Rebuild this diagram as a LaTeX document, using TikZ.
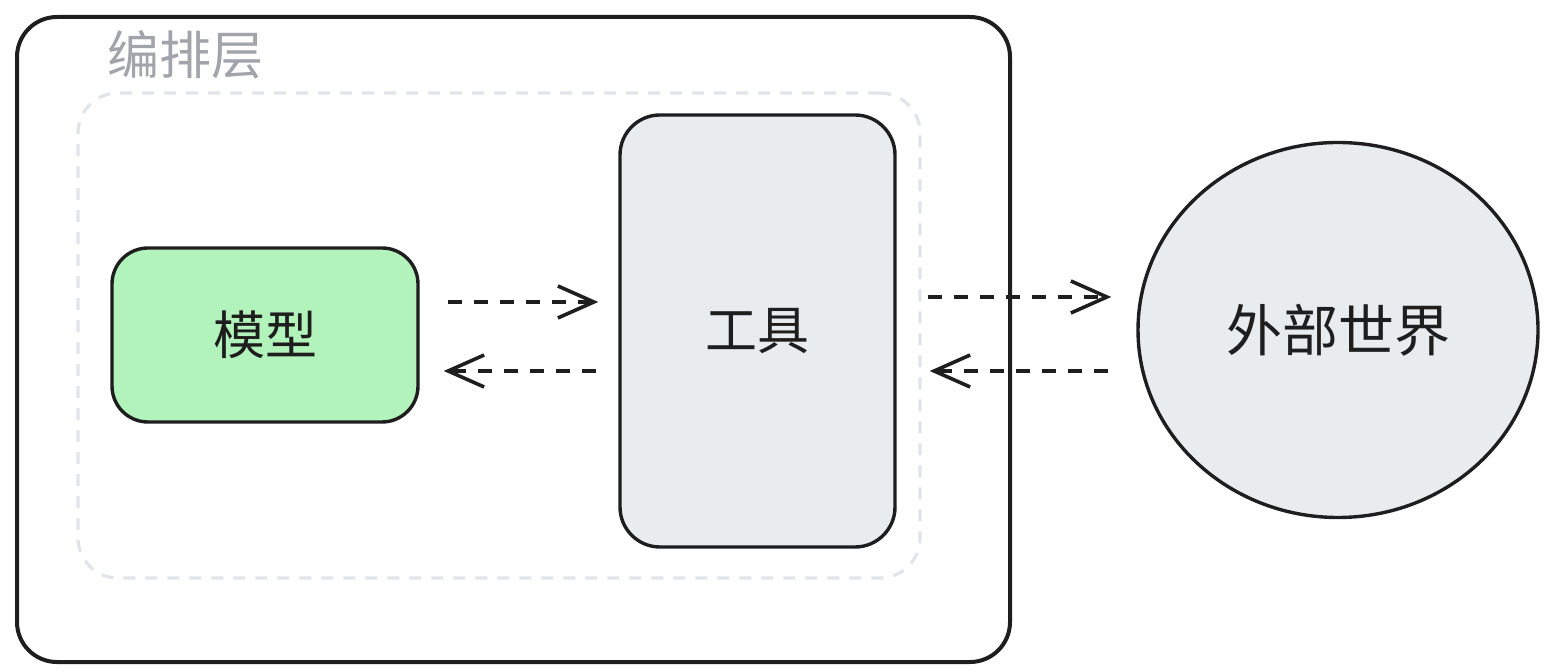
\documentclass[tikz,border=0pt]{standalone}
\usepackage{fontspec}
\setmainfont{Noto Sans CJK SC}
\usetikzlibrary{arrows.meta,calc,shapes.geometric}
\definecolor{ink}{HTML}{1E1E1E}
\definecolor{modelgreen}{HTML}{B2F2BB}
\definecolor{toolgray}{HTML}{E9ECEF}
\definecolor{layergray}{HTML}{E1E4E9}
\definecolor{titlegray}{HTML}{A2A4AB}
\begin{document}
\begin{tikzpicture}[x=0.5pt, y=-0.5pt,
    box/.style={draw=ink, line width=1.7pt, rounded corners=18pt, inner sep=0pt, font=\fontsize{26pt}{30pt}\selectfont, text=ink},
    flow/.style={draw=ink, line width=1.8pt, dash pattern=on 7pt off 6pt, -{Straight Barb[length=18pt, width=16pt, line width=1.8pt]}}]
  \useasboundingbox (0,0) rectangle (1550,672);
  \node (outer) [draw=ink, line width=2pt, rounded corners=20pt, minimum width=496.5pt, minimum height=322.5pt] at (513.5,339.5) {};
  \node (layer) [draw=layergray, line width=1.6pt, dash pattern=on 6pt off 5pt, rounded corners=20pt, minimum width=421pt, minimum height=242.5pt] at (499,335.5) {};
  \node (title) [text=titlegray, font=\fontsize{26pt}{30pt}\selectfont] at (185,55) {编排层};
  \node (model) [box, fill=modelgreen, minimum width=153pt, minimum height=87pt] at (265,335) {模型};
  \node (tool) [box, fill=toolgray, rounded corners=20pt, minimum width=137.5pt, minimum height=216pt] at (757.5,331) {工具};
  \node (world) [box, ellipse, fill=toolgray, minimum width=200pt, minimum height=187.5pt, font=\fontsize{28pt}{30pt}\selectfont] at (1338,330) {外部世界};
  \draw [flow] ($(model.east)+(28,-33)$) -- ($(tool.west)+(-20,-29)$);
  \draw [flow] ($(tool.west)+(-22,40)$) -- ($(model.east)+(24,36)$);
  \draw [flow] ($(tool.east)+(31,-34)$) -- ($(world.west)+(-25,-33)$);
  \draw [flow] ($(world.west)+(-28,41)$) -- ($(tool.east)+(33,40)$);
\end{tikzpicture}
\end{document}
